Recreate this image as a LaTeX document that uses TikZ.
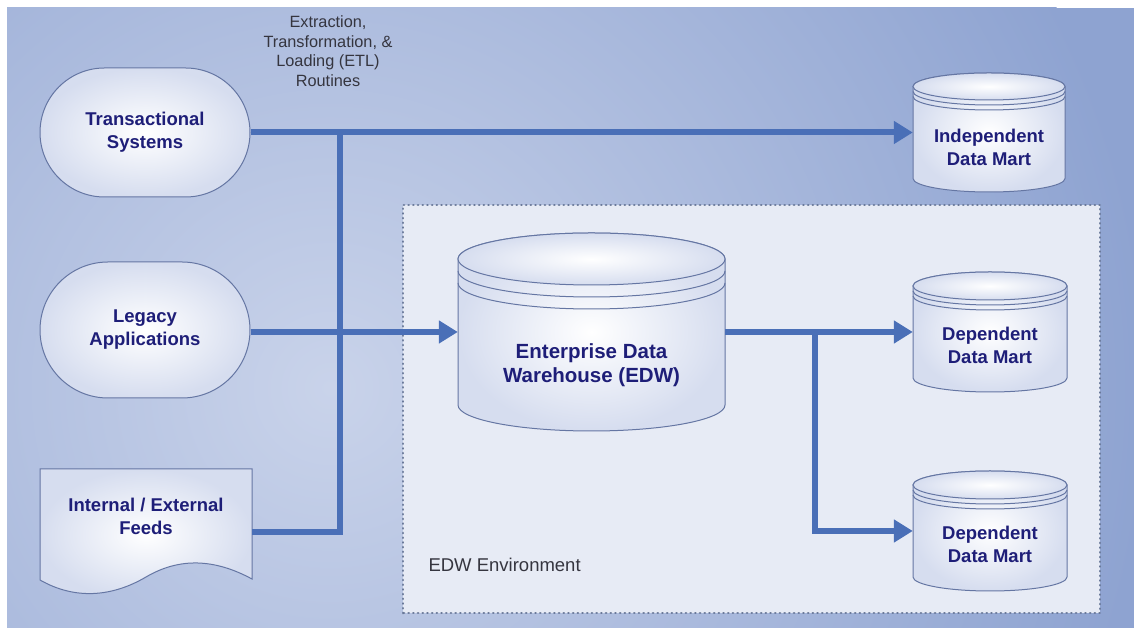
\documentclass[tikz,border=0pt]{standalone}
\usepackage{fontspec}
\setmainfont{Liberation Sans}
\usetikzlibrary{shapes.misc,arrows.meta}
\definecolor{bgout}{HTML}{8EA3D1}
\definecolor{bgin}{HTML}{C9D3EA}
\definecolor{lineblue}{HTML}{4A6FB7}
\definecolor{navy}{HTML}{1E1E78}
\definecolor{shapeedge}{HTML}{6576A3}
\definecolor{shapeout}{HTML}{D6DDEF}
\definecolor{envfill}{HTML}{E7EBF5}
\definecolor{envedge}{HTML}{6A7999}
\definecolor{graytext}{HTML}{35353F}
\newcommand\dbcyl[7]{%
  \path[cylfill] (#1,{#2-#5}) -- (#1,{#2-#4+#5})
    arc[start angle=180,end angle=360,x radius={#3/2},y radius=#5]
    -- ({#1+#3},{#2-#5})
    arc[start angle=0,end angle=180,x radius={#3/2},y radius=#5] -- cycle;
  \path[cylfill] ({#1+#3/2},{#2-#5}) ellipse[x radius={#3/2},y radius=#5];
  \draw[cylline] (#1,{#2-#5-#6}) arc[start angle=180,end angle=360,x radius={#3/2},y radius=#5];
  \draw[cylline] (#1,{#2-#5-#7}) arc[start angle=180,end angle=360,x radius={#3/2},y radius=#5];
}
\tikzset{
  term/.style={rounded rectangle, draw=shapeedge, line width=1pt,
    shade, inner color=white, outer color=shapeout,
    minimum width=210pt, minimum height=129pt, inner sep=0pt},
  cylfill/.style={draw=shapeedge, line width=1pt, shade, inner color=white, outer color=shapeout},
  cylline/.style={draw=shapeedge, line width=1pt},
  anchorbox/.style={rectangle, inner sep=0pt},
  lbl/.style={font=\fontsize{18.5}{23}\selectfont\bfseries, text=navy, align=center},
  biglbl/.style={font=\fontsize{20.5}{24}\selectfont\bfseries, text=navy, align=center},
  note/.style={font=\fontsize{16.3}{19.5}\selectfont, text=graytext, align=center},
  envlbl/.style={font=\fontsize{18.5}{22}\selectfont, text=graytext, anchor=west},
  conn/.style={draw=lineblue, line width=6pt},
  arr/.style={conn, -{Triangle[length=19pt,width=22pt]}},
}
\begin{document}
\begin{tikzpicture}[x=1pt,y=1pt]
\useasboundingbox (0,0) rectangle (1134,628);
\fill[white] (0,0) rectangle (1134,628);
\begin{scope}
  \clip (7,0) rectangle (1134,620);
  \fill[bgout] (7,0) rectangle (1134,620);
  \shade[inner color=bgin, outer color=bgout] (330,240) circle (820);
\end{scope}
% EDW environment box
\draw[envedge, fill=envfill, line width=2.8pt, line cap=round, dash pattern=on 0.1pt off 4.6pt] (403,15) rectangle (1100,423);
\node[envlbl] (envl) at (425,63) {EDW Environment};
% sources
\node[term] (ts) at (145,495.5) {};
\node[lbl] (tst) at (145,496) {Transactional\\Systems};
\node[term, minimum height=136pt] (leg) at (145,298) {};
\node[lbl] (legt) at (145,298) {Legacy\\Applications};
\path[cylfill] (40,159) -- (252,159) -- (252,49)
   .. controls (215,69) and (180,71) .. (146,51)
   .. controls (112,31) and (75,28) .. (40,48) -- cycle;
\node[lbl] (feeds) at (146,112) {Internal / External\\Feeds};
\coordinate (fout) at (252,96);
% ETL label
\node[note] (etl) at (328,577) {Extraction,\\Transformation, \&\\Loading (ETL)\\Routines};
% cylinders
\dbcyl{458}{395}{267}{198}{26}{12}{24}
\node[anchorbox, minimum width=267pt, minimum height=198pt] (edw) at (591.5,296) {};
\node[biglbl] (edwt) at (591.5,263) {Enterprise Data\\Warehouse (EDW)};
\dbcyl{913}{555}{152}{119}{13.5}{5}{10}
\node[anchorbox, minimum width=152pt, minimum height=119pt] (ind) at (989,495.5) {};
\node[lbl] (indt) at (989,481) {Independent\\Data Mart};
\dbcyl{913}{356}{154}{120}{14}{5}{10}
\node[anchorbox, minimum width=154pt, minimum height=120pt] (dep1) at (990,296) {};
\node[lbl] (dep1t) at (990,283) {Dependent\\Data Mart};
\dbcyl{913}{157}{154}{120}{14}{5}{10}
\node[anchorbox, minimum width=154pt, minimum height=120pt] (dep2) at (990,97) {};
\node[lbl] (dep2t) at (990,84) {Dependent\\Data Mart};
% connectors
\coordinate (bustop) at (340,495.5);
\coordinate (busbot) at (340,96);
\coordinate (br) at (815,296);
\draw[arr] (ts.east) -- (ind.west);
\draw[conn] (bustop) -- (busbot) -- (fout);
\draw[arr] (leg.east |- edw.west) -- (edw.west);
\draw[conn] (edw.east) -- (br);
\draw[arr] (br) -- (dep1.west);
\draw[arr] (br) |- (dep2.west);
\end{tikzpicture}
\end{document}
